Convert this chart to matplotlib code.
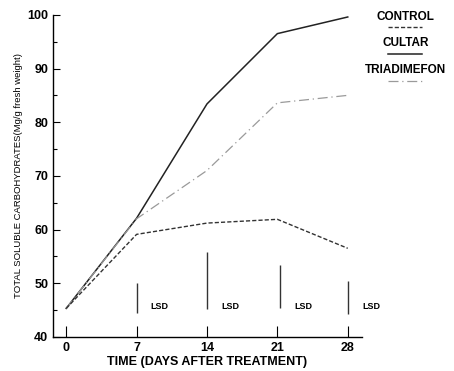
import matplotlib
matplotlib.use("Agg")
import matplotlib.pyplot as plt

days = [0, 7, 14, 21, 28]
cultar = [45.3, 62.1, 83.4, 96.5, 99.6]
triadimefon = [45.3, 62.0, 71.0, 83.6, 85.0]
control = [45.3, 59.1, 61.2, 61.9, 56.5]
lsd_x = [7, 14, 21.3, 28]
lsd_lo = [44.5, 45.1, 45.3, 44.2]
lsd_hi = [50.0, 55.9, 53.3, 50.5]
yticks = [40, 50, 60, 70, 80, 90, 100]
ytick_labels = ["40", "50", "60", "70", "80", "90", "100"]
legend_names = ["CONTROL", "CULTAR", "TRIADIMEFON"]

plt.rcParams['font.family'] = ['Liberation Sans', 'DejaVu Sans']
fig = plt.figure(figsize=(4.54, 3.71), dpi=100)
ax = fig.add_axes([0.117, 0.092, 0.68, 0.868])

ax.plot(days, cultar, color='#222222', lw=1.1, ls='-')
ax.plot(days, triadimefon, color='#9a9a9a', lw=0.9, ls=(0, (8, 3, 1, 3)))
ax.plot(days, control, color='#333333', lw=1.0, ls=(0, (3, 1.5)))

for x, lo, hi in zip(lsd_x, lsd_lo, lsd_hi):
    ax.vlines(x, lo, hi, color='#333333', lw=1.0)
    ax.text(x + 2.3, 45.6, "LSD", fontsize=6.5, fontweight='bold', ha='center', va='center', clip_on=False)

ax.set_xlim(-1.3, 29.4)
ax.set_ylim(40, 100)
ax.set_xticks(days)
ax.set_xticklabels([str(d) for d in days], fontsize=9, fontweight='bold')
ax.set_yticks(yticks)
ax.set_yticklabels(ytick_labels, fontsize=9, fontweight='bold')
ax.set_yticks([45, 55, 65, 75, 85, 95], minor=True)
ax.tick_params(axis='both', direction='in', length=5, width=0.8)
ax.tick_params(axis='y', which='minor', direction='in', length=3, width=0.8)
ax.tick_params(axis='x', length=8, pad=4)
for s in ['top', 'right']:
    ax.spines[s].set_visible(False)
for s in ['left', 'bottom']:
    ax.spines[s].set_linewidth(1.0)
ax.set_xlabel("TIME (DAYS AFTER TREATMENT)", fontsize=9, fontweight='bold', labelpad=1)
ax.set_ylabel("TOTAL SOLUBLE CARBOHYDRATES(Mg/g fresh weight)", fontsize=6.8, labelpad=3)

# legend at right
styles = [dict(color='#333333', lw=1.0, ls=(0, (3, 1.5))),
          dict(color='#222222', lw=1.1, ls='-'),
          dict(color='#9a9a9a', lw=0.9, ls=(0, (8, 3, 1, 3)))]
ys = [0.955, 0.883, 0.81]
for name, st, y in zip(legend_names, styles, ys):
    fig.text(0.894, y, name, fontsize=8.5, fontweight='bold', ha='center', va='center')
    fig.add_artist(plt.Line2D([0.855, 0.93], [y - 0.028, y - 0.028], transform=fig.transFigure, **st))

fig.savefig("out.png", dpi=100)
